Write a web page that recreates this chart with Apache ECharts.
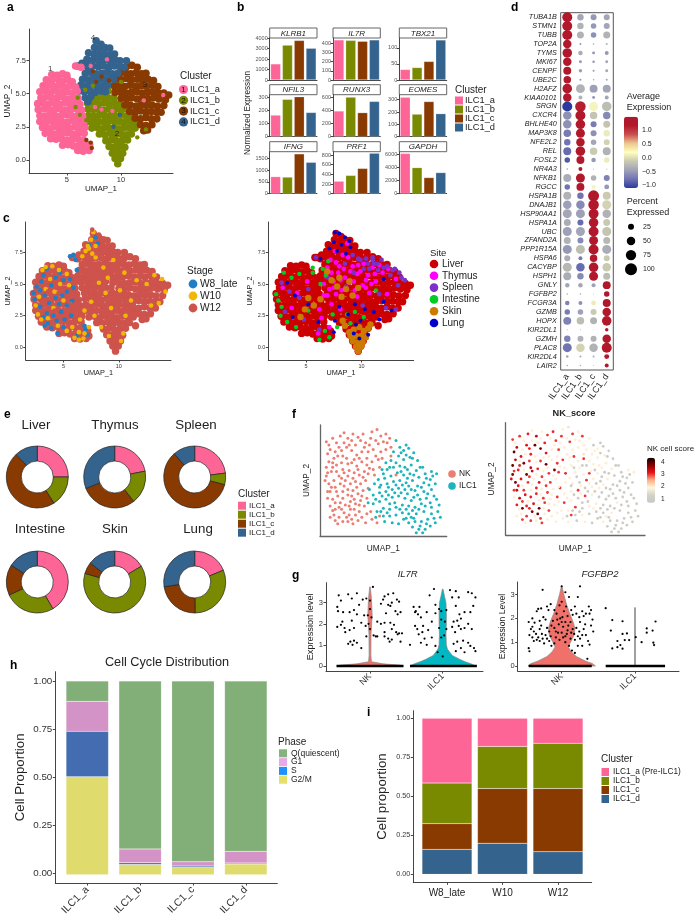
<!DOCTYPE html>
<html>
<head>
<meta charset="utf-8">
<style>html,body{margin:0;padding:0;background:#fff}#chart{width:695px;height:918px}</style>
<script src="https://cdn.jsdelivr.net/npm/echarts@6/dist/echarts.min.js"></script>
</head>
<body>
<div id="chart"></div>
<script>
// cluster names and colours
const clusters = ['ILC1_a','ILC1_b','ILC1_c','ILC1_d'];
const clusterColors = ['#fd6596','#7a8a00','#893a00','#34638e'];

// panel a, UMAP cells per cluster
const umapA = [[3.6,6.45],[4.1,6.4],[4.6,6.5],[5.0,6.4],[3.1,6.05],[3.6,6.0],[4.15,6.1],[4.6,5.95],[5.1,6.05],[5.5,5.9],[2.8,5.6],[3.3,5.65],[3.8,5.55],[4.3,5.65],[4.8,5.5],[5.3,5.6],[5.8,5.5],[2.5,5.15],[3.0,5.2],[3.5,5.1],[4.0,5.2],[4.5,5.1],[5.0,5.15],[5.5,5.05],[5.95,5.2],[2.6,4.7],[3.1,4.75],[3.6,4.65],[4.1,4.7],[4.6,4.75],[5.1,4.6],[5.6,4.7],[6.05,4.65],[2.3,4.25],[2.8,4.3],[3.3,4.2],[3.8,4.3],[4.3,4.2],[4.8,4.3],[5.3,4.2],[5.8,4.3],[6.2,4.2],[2.35,3.8],[2.9,3.85],[3.4,3.75],[3.9,3.8],[4.4,3.85],[4.9,3.75],[5.4,3.8],[5.9,3.85],[6.35,3.75],[2.5,3.35],[3.0,3.3],[3.5,3.4],[4.0,3.3],[4.5,3.35],[5.0,3.4],[5.5,3.3],[6.0,3.35],[6.45,3.3],[2.5,2.9],[3.05,2.85],[3.55,2.95],[4.05,2.85],[4.55,2.9],[5.05,2.85],[5.55,2.95],[6.05,2.9],[6.55,2.85],[2.75,2.45],[3.25,2.4],[3.75,2.5],[4.25,2.4],[4.75,2.45],[5.25,2.4],[5.75,2.5],[6.25,2.4],[6.65,2.45],[3.0,2.0],[3.5,2.05],[4.0,1.95],[4.5,2.0],[5.0,2.05],[5.5,1.95],[6.0,2.0],[6.6,2.0],[3.5,1.6],[4.0,1.55],[4.5,1.6],[5.0,1.5],[5.5,1.55],[6.0,1.6],[6.5,1.5],[4.6,1.1],[5.1,1.15],[5.6,1.05],[6.1,1.1],[6.6,1.1],[7.1,1.15],[6.0,0.7],[6.5,0.65],[7.05,0.7],[5.8,7.1],[6.3,7.0]];
const umapB = [[7.8,4.7],[8.3,4.75],[8.8,4.7],[9.3,4.7],[8.8,5.2],[9.5,5.3],[6.9,4.3],[7.4,4.3],[7.9,4.25],[8.4,4.3],[8.9,4.2],[9.4,4.3],[9.8,4.2],[6.95,3.85],[7.45,3.8],[7.95,3.85],[8.45,3.75],[8.95,3.85],[9.45,3.8],[9.95,3.8],[10.4,3.85],[7.0,3.35],[7.5,3.3],[8.0,3.4],[8.5,3.3],[9.0,3.35],[9.5,3.3],[10.0,3.4],[10.5,3.3],[10.95,3.35],[6.95,2.9],[7.45,2.85],[7.95,2.9],[8.45,2.85],[8.95,2.95],[9.45,2.85],[9.95,2.9],[10.45,2.85],[10.95,2.9],[11.3,2.8],[7.3,2.4],[7.8,2.45],[8.3,2.35],[8.8,2.45],[9.3,2.4],[9.8,2.35],[10.3,2.45],[10.8,2.4],[11.3,2.4],[8.0,1.95],[8.5,1.9],[9.0,2.0],[9.5,1.9],[10.0,1.95],[10.5,1.9],[10.95,1.95],[8.6,1.45],[9.1,1.5],[9.6,1.4],[10.1,1.45],[10.6,1.5],[8.9,1.0],[9.35,0.95],[9.85,1.0],[10.35,0.95],[9.2,0.5],[9.65,0.55],[10.15,0.5],[9.45,0.1],[9.95,0.1],[9.7,-0.3]];
const umapC = [[10.5,7.05],[11.0,7.15],[11.5,7.0],[9.9,6.55],[10.4,6.6],[10.9,6.5],[11.4,6.6],[11.9,6.5],[12.3,6.55],[9.5,6.1],[10.0,6.05],[10.5,6.15],[11.0,6.05],[11.5,6.1],[12.0,6.05],[12.5,6.1],[13.0,6.0],[9.35,5.6],[9.85,5.6],[10.35,5.55],[10.85,5.65],[11.35,5.55],[11.85,5.6],[12.35,5.55],[12.85,5.65],[13.4,5.55],[9.45,5.1],[9.95,5.15],[10.45,5.05],[10.95,5.1],[11.45,5.15],[11.95,5.05],[12.45,5.1],[12.95,5.15],[13.45,5.05],[13.95,5.05],[14.4,4.9],[10.0,4.65],[10.5,4.6],[11.0,4.7],[11.5,4.6],[12.0,4.65],[12.5,4.6],[13.0,4.7],[13.5,4.6],[14.1,4.55],[10.35,4.15],[10.85,4.15],[11.35,4.05],[11.85,4.15],[12.35,4.1],[12.85,4.15],[13.35,4.05],[13.95,4.1],[10.8,3.65],[11.3,3.6],[11.8,3.7],[12.3,3.6],[12.8,3.65],[13.3,3.6],[13.7,3.6],[11.3,3.15],[11.8,3.1],[12.3,3.2],[12.8,3.1],[13.3,3.1],[11.8,2.65],[12.3,2.6],[12.85,2.65],[12.1,2.2],[12.45,2.25]];
const umapD = [[7.7,9.0],[8.15,8.75],[7.55,8.5],[8.0,8.4],[8.5,8.5],[8.95,8.45],[7.0,8.1],[7.5,8.0],[8.0,7.95],[8.5,8.0],[9.0,7.95],[9.4,8.0],[6.95,7.55],[7.45,7.6],[7.95,7.5],[8.45,7.55],[8.95,7.5],[9.45,7.55],[9.9,7.5],[10.5,7.5],[6.9,7.05],[7.4,7.1],[7.9,7.05],[8.4,7.1],[8.9,7.0],[9.4,7.1],[9.9,7.05],[10.3,7.0],[6.7,6.55],[7.2,6.6],[7.7,6.5],[8.2,6.55],[8.7,6.6],[9.2,6.5],[9.7,6.55],[6.45,6.1],[6.95,6.05],[7.45,6.15],[7.95,6.05],[8.45,6.1],[8.95,6.1],[9.3,6.1],[6.3,5.65],[6.8,5.6],[7.3,5.65],[7.8,5.55],[8.3,5.6],[8.75,5.65],[6.1,5.2],[6.6,5.15],[7.1,5.2],[7.6,5.1],[8.1,5.2],[8.55,5.15],[6.7,4.7],[7.2,4.75],[6.95,4.4],[6.0,7.1],[6.4,7.3],[6.85,7.6]];
// single cells lying inside a neighbouring cluster
const specksA = [[8.2,3.8],[9.2,3.7],[7.6,4.0],[12.1,4.5],[13.9,4.9],[7.2,7.1],[8.7,7.6]];
const specksB = [[6.2,3.4],[5.8,4.0],[6.0,4.7],[6.7,5.3],[7.4,5.6],[10.0,5.9],[6.8,3.0],[11.5,1.7],[12.3,2.3]];
const specksC = [[8.2,6.3],[7.7,5.9],[7.4,6.7],[6.8,1.5],[7.2,1.3],[7.3,0.9],[8.9,6.0]];
const specksD = [[9.9,3.4],[9.3,2.5]];
const umapMarkers = [[3.45,6.87,'1'],[9.63,1.97,'2'],[12.2,5.68,'3'],[7.4,9.2,'4']];

// panel b, normalized expression
const barGenes = ['KLRB1','IL7R','TBX21','NFIL3','RUNX3','EOMES','IFNG','PRF1','GAPDH'];
const barValues = [[1550,3350,3800,3050],[435,430,420,435],[33,39,58,125],[165,285,305,185],[390,600,365,535],[320,183,285,187],[730,710,1700,1340],[260,380,525,840],[6100,3950,2450,3200]];
const barMax = [4030,455,131,320,636,340,1790,870,6350];
const barTicks = [[0,1000,2000,3000,4000],[0,100,200,300,400],[0,50,100],[0,100,200,300],[0,200,400,600],[0,100,200,300],[0,500,1000,1500],[0,200,400,600,800],[0,2000,4000,6000]];

// panel c, stage overlays on the same map
const stageW8 = [[2.3,4.3],[2.6,4.8],[2.4,3.8],[2.9,3.2],[3.2,5.7],[3.5,6.2],[3.0,5.2],[3.9,4.9],[4.3,5.5],[4.7,5.9],[5.0,5.3],[5.3,4.4],[4.9,4.1],[4.3,3.9],[3.7,3.5],[3.3,4.1],[3.5,2.7],[3.3,1.7],[3.9,1.5],[4.4,2.1],[4.8,2.8],[5.3,3.3],[5.8,3.7],[5.9,4.7],[5.6,5.4],[4.5,1.1],[5.0,1.6],[5.7,2.5],[5.9,7.3],[6.1,6.9],[5.6,7.2],[6.2,6.1],[7.0,1.4],[7.2,1.0],[6.9,1.7],[7.9,8.7],[8.1,8.2],[7.3,8.1],[2.9,4.5],[3.6,1.9],[4.1,2.5],[4.6,3.4],[5.1,2.2],[3.2,2.4],[6.2,0.9]];
const stageW10 = [[2.5,3.3],[2.7,2.6],[3.4,6.35],[4.0,6.4],[4.6,6.1],[3.1,6.1],[3.8,5.4],[3.4,4.6],[2.8,4.0],[4.2,4.4],[4.7,5.0],[5.3,5.8],[5.5,4.9],[5.0,3.7],[4.1,3.1],[3.6,2.3],[3.0,2.2],[4.5,1.7],[5.3,1.3],[5.8,1.6],[6.0,0.75],[6.4,0.6],[6.8,0.7],[6.4,1.2],[6.9,1.1],[7.3,1.6],[7.2,8.0],[7.5,8.5],[7.7,9.1],[7.0,7.6],[7.6,7.4],[7.3,7.8],[7.9,8.0],[6.7,7.2],[7.9,7.1],[8.6,6.3],[9.0,5.5],[8.2,5.1],[8.8,4.3],[7.5,3.6],[6.9,2.9],[6.5,2.2],[7.8,2.5],[8.4,1.6],[9.1,0.9],[9.3,3.1],[10.1,4.5],[10.5,5.9],[11.6,5.3],[12.5,5.0],[13.2,5.7],[13.9,5.4],[14.2,4.4],[13.6,3.5],[12.9,3.3],[11.1,3.7],[10.6,2.5],[10.2,0.5],[10.4,1.1],[9.5,6.9]];
const stageW12Late = [[3.6,4.4],[4.4,4.7],[5.0,4.6],[5.7,4.0],[4.2,2.9],[5.3,2.7],[3.9,6.0],[3.1,3.6],[8.2,8.9],[8.7,8.6],[7.6,9.3]];

// panel c, site overlays on the same map
const siteThymus = [[2.9,4.7],[4.2,4.3],[5.1,5.2],[3.7,3.1],[6.9,6.3],[7.3,5.9],[7.7,6.7],[8.1,5.3],[6.6,5.0],[7.1,4.6],[7.7,4.2],[8.4,6.2],[8.8,7.1],[9.2,6.4],[9.6,5.8],[10.2,6.6],[10.6,5.7],[11.0,6.3],[11.3,5.2],[10.1,4.9],[9.4,4.5],[8.9,5.1],[8.3,7.3],[7.6,7.6],[8.7,8.2],[11.9,5.9],[12.4,6.2],[6.2,3.0],[6.4,2.3],[7.3,3.4],[8.1,3.0],[7.1,1.6],[6.1,1.1],[10.7,4.3],[9.9,6.0],[10.9,5.0],[6.6,4.1],[6.8,5.6],[7.5,5.2],[7.9,5.9],[8.5,5.5],[9.0,6.0],[9.7,6.5],[9.3,5.2],[10.4,5.3],[11.2,5.8],[11.6,6.5],[7.2,6.9],[8.0,6.4],[6.9,4.1],[7.5,4.7],[8.2,4.5],[9.6,4.0],[10.4,4.7],[13.1,5.4],[12.3,4.2]];
const siteSpleen = [[2.8,5.1],[3.5,4.4],[4.4,3.9],[5.2,4.6],[4.8,2.2],[3.1,2.8],[6.2,1.4],[5.9,7.1],[7.0,5.5],[9.9,6.9],[10.4,7.0],[11.0,6.9],[11.4,6.6],[11.8,6.9],[12.3,6.4],[12.8,6.1],[13.4,5.9],[13.9,5.3],[13.3,4.9],[13.1,3.0],[12.2,3.1],[8.5,6.6],[9.2,7.3],[8.6,4.8],[10.1,3.3],[11.6,4.2],[9.3,5.9],[10.7,6.2],[11.1,6.6],[11.5,6.1],[12.0,6.3],[12.6,5.7],[11.0,7.1],[10.6,6.6],[13.6,5.5],[13.0,6.2],[10.2,6.2],[9.7,7.0]];
const siteIntestine = [[2.3,4.2],[2.5,3.7],[2.8,3.2],[2.7,2.5],[3.3,2.0],[4.1,1.6],[3.7,5.5],[3.0,5.9],[5.6,6.3],[6.5,6.2],[6.8,5.7],[6.3,5.0],[5.6,5.9],[7.0,6.8],[7.4,2.6],[7.8,1.6],[6.7,1.3],[6.2,0.6],[7.1,0.8],[8.7,2.6],[9.4,2.8],[9.0,1.9],[10.2,2.4],[5.2,2.9],[4.4,5.8],[11.3,4.5]];
const siteSkin = [[8.9,1.2],[9.3,1.4],[9.8,1.6],[10.2,1.3],[10.6,1.5],[9.0,0.9],[9.5,0.9],[10.0,0.9],[10.4,0.8],[9.2,0.5],[9.7,0.4],[10.1,0.4],[9.5,0.05],[9.95,0.05],[9.7,-0.3],[8.5,1.7],[8.9,5.2],[8.0,5.5],[8.6,4.6],[7.8,4.8],[9.2,4.1],[7.3,5.3],[6.9,6.0],[5.2,3.9],[4.9,3.0],[5.7,3.3],[6.3,3.8],[4.5,2.4],[8.2,4.0],[9.7,4.7],[10.8,1.8],[8.3,2.1]];
const siteLung = [[7.6,9.1],[8.0,9.0],[8.5,8.7],[8.9,8.4],[7.5,8.3],[8.2,8.1],[9.0,7.9],[7.8,7.6],[8.6,7.4],[7.1,7.8],[6.3,7.0],[3.3,5.1],[4.0,4.1],[3.8,2.4],[5.2,3.4],[6.1,2.0],[9.9,2.1],[9.5,1.8],[9.3,1.1],[9.8,0.7],[10.6,1.0],[8.8,2.6],[10.3,3.0],[9.4,3.4],[11.1,2.8],[11.6,2.2],[12.0,3.6],[12.7,2.9],[12.0,5.4],[8.0,3.2],[7.6,2.1],[7.5,1.2]];

// panel d, dot plot values
const dotGenes = ['TUBA1B','STMN1','TUBB','TOP2A','TYMS','MKI67','CENPF','UBE2C','H2AFZ','KIAA0101','SRGN','CXCR4','BHLHE40','MAP3K8','NFE2L2','REL','FOSL2','NR4A3','NFKB1','RGCC','HSPA1B','DNAJB1','HSP90AA1','HSPA1A','UBC','ZFAND2A','PPP1R15A','HSPA6','CACYBP','HSPH1','GNLY','FGFBP2','FCGR3A','GZMB','HOPX','KIR2DL1','GZMH','PLAC8','KIR2DL4','LAIR2'];
const dotPct = [[69,29,25,25],[69,29,21,25],[69,34,21,34],[50,2.8,1.6,2.8],[63,14,6,11],[50,6,4.3,6],[44,8.5,2.8,6],[39,2.8,1.6,2.8],[63,56,44,44],[50,11,6,11],[69,77,56,63],[50,69,39,39],[50,63,25,34],[39,56,25,29],[29,50,21,25],[44,63,39,44],[21,44,14,21],[1.6,11,0.7,0.7],[44,56,21,25],[21,44,11,17],[44,29,84,44],[50,50,77,56],[56,56,69,50],[34,25,63,34],[56,56,69,56],[34,25,56,34],[56,56,69,56],[25,11,39,25],[56,50,63,50],[44,29,56,34],[14,14,11,44],[1.6,1.6,0.7,21],[14,11,17,44],[21,21,25,50],[44,39,34,63],[0.7,0.7,0.4,8.5],[29,25,25,50],[56,50,50,69],[4.3,2.8,2.8,17],[1.6,1.6,0.7,11]];
const dotAvg = [[1.3,-0.4,-0.5,-0.4],[1.3,-0.3,-0.5,-0.4],[1.3,-0.3,-0.55,-0.3],[1.3,-0.5,-0.4,-0.3],[1.3,-0.35,-0.5,-0.5],[1.3,-0.5,-0.5,-0.4],[1.3,-0.45,-0.5,-0.4],[1.3,-0.5,-0.4,-0.4],[1.3,-0.3,-0.45,-0.4],[1.3,-0.3,-0.5,-0.4],[-1.1,1.15,0.15,-0.2],[-0.55,1.3,-0.15,-0.6],[-0.55,1.3,-0.7,-0.15],[-0.7,1.3,-0.55,0.1],[-0.75,1.3,-0.4,-0.05],[-0.8,1.3,-0.1,-0.3],[-0.9,1.25,-0.5,0.1],[-0.5,1.3,-0.4,-0.4],[-0.35,1.3,-0.3,-0.65],[-0.75,1.25,0.15,-0.5],[-0.3,-0.75,1.3,-0.1],[-0.45,-0.6,1.3,-0.05],[-0.4,-0.45,1.3,-0.3],[-0.35,-0.8,1.3,-0.1],[-0.45,-0.4,1.3,-0.15],[-0.3,-0.6,1.3,-0.25],[-0.5,-0.2,1.3,-0.35],[-0.35,-0.7,1.3,-0.1],[-0.25,-0.8,1.3,-0.1],[-0.35,-0.6,1.3,-0.2],[-0.4,-0.4,-0.45,1.3],[-0.4,-0.4,-0.2,1.3],[-0.65,-0.55,0.1,1.25],[-0.7,-0.45,-0.1,1.3],[-0.65,-0.2,-0.3,1.3],[-0.4,-0.3,-0.2,1.3],[-0.65,-0.3,-0.3,1.25],[-0.75,-0.05,-0.3,1.3],[-0.45,-0.4,-0.35,1.25],[-0.4,-0.3,-0.2,1.25]];
const avgTicks = [1.0,0.5,0.0,-0.5,-1.0];
const pctTicks = [25,50,75,100];

// panel e, donut shares
const donutSites = ['Liver','Thymus','Spleen','Intestine','Skin','Lung'];
const donutValues = [[25,16,47,12],[22,17.5,29.5,31],[23,6,59.5,11.5],[41.6,26.5,16,15.9],[16.5,63,6,14.5],[18.8,31,22.7,27.5]];

// panel f, [x, y, NK cell score]
const nkCells = [[5,85,3],[8,78,3.4],[6,74,3.9],[10,88,3],[13,84,2],[16,90,3.1],[19,93,2],[22,88,3.4],[25,86,2],[28,82,3.1],[32,86,2],[36,84,3],[41,94,2],[45,96,2.1],[48,90,3],[52,92,2],[55,88,3],[53,84,2],[46,83,3],[42,78,2],[38,76,3],[33,76,2],[29,73,3.2],[25,77,3.8],[21,80,3.9],[17,77,3.1],[14,72,2],[11,70,3.2],[7,67,3.4],[5,62,3.9],[9,58,3.1],[13,64,3.8],[17,66,3],[21,70,2],[25,66,3],[29,63,3.9],[33,67,2],[37,70,2],[41,67,3],[44,72,2],[48,76,2],[52,78,2],[56,80,2],[39,61,2],[35,58,3.8],[31,55,3],[27,57,2],[23,59,3.1],[19,57,3.4],[15,54,3.9],[11,50,3.2],[7,47,3.9],[5,54,3.8],[8,40,3.4],[12,44,2],[16,47,3],[20,50,2],[24,47,3.2],[28,49,2],[32,47,3],[36,50,2],[34,41,2],[30,38,3],[26,41,2],[22,37,3.1],[18,40,2],[14,36,3.2],[10,33,3.4],[8,27,3.1],[12,24,3.9],[16,30,2],[20,28,3.2],[24,31,2],[28,29,3],[32,32,2],[35,27,2],[31,22,3],[27,24,2],[23,19,3.9],[19,21,3.8],[15,17,3],[11,19,2],[8,17,2],[14,11,2],[18,13,3],[22,13,2],[26,11,3],[30,14,2],[36,12,2],[41,15,2],[45,12,2],[47,18,3],[40,22,2],[37,34,3],[38,43,2],[43,55,3.1],[47,62,2],[46,69,2],[40,88,3],[34,92,3.1],[26,92,2],[6,40,3],[4,50,3.2],[10,62,3.1],[18,60,3.4],[22,42,3.1],[15,26,3.1],[24,24,3.9],[56,72,2.1],[60,55,3],[7,82,2],[12,76,2],[15,80,3.2],[19,84,2],[23,82,2],[30,89,3],[35,80,2],[39,82,2],[44,86,2],[50,85,2],[49,70,3],[42,60,2],[37,64,3],[31,70,2],[27,69,2],[22,65,2],[18,72,3.1],[10,66,2],[6,57,3],[13,58,2],[17,52,3],[22,54,2],[26,52,3],[30,60,2],[34,53,2],[38,56,3],[9,44,3.2],[13,40,3],[19,45,2],[25,36,2],[29,44,3],[33,36,2],[6,34,2],[12,30,3],[18,34,3.1],[23,27,2],[27,33,3],[31,28,2],[10,23,2],[17,24,3.1],[21,17,2],[25,15,3],[33,17,2],[37,20,2],[12,14,3],[28,19,2]];
const ilcCells = [[60,86,2],[63,80,1],[58,76,2],[66,77,2],[70,79,1],[74,75,1.2],[71,71,2],[66,69,2],[62,72,2],[56,68,3],[52,66,2],[49,60,1.2],[53,60,2],[58,62,1],[63,63,2],[67,62,2],[72,64,2],[77,68,1],[81,62,1.2],[76,59,2],[71,56,1],[66,55,2],[61,57,2],[56,54,2],[51,52,1],[46,51,2],[43,47,2],[48,46,2],[53,47,1.2],[58,49,3],[63,50,2],[68,48,1],[73,50,2],[78,53,1],[83,56,1],[88,58,2],[92,56,2],[87,51,1],[82,48,1],[77,45,1],[72,42,1],[67,42,2],[62,43,2],[57,42,1],[52,40,3],[47,39,2],[42,37,2],[39,42,3],[38,30,2],[42,29,3],[47,31,2],[52,33,1],[57,35,3],[62,36,2],[67,34,1],[72,32,1],[77,37,1],[82,40,1],[88,42,1],[84,34,1],[80,29,2],[75,26,1],[70,27,1],[65,28,2],[60,26,2],[55,24,1],[50,25,3],[45,22,2],[50,18,1],[55,18,2],[60,19,1],[65,21,1],[70,20,1],[76,20,2],[82,22,1],[88,26,1],[93,22,1],[95,17,1],[90,16,1],[85,15,1],[80,13,1],[75,13,1],[70,12,2],[73,8,1],[78,6,1],[83,6,1],[87,9,1],[81,3,1],[76,3,1],[91,12,1],[94,28,1],[86,46,1],[91,47,1],[90,36,1],[72,17,2],[66,15,1],[62,11,1],[57,12,2],[51,13,1],[44,17,1],[68,82,1],[73,70,1],[69,52,1],[60,46,2],[55,29,1],[64,39,1],[64,75,2],[68,73,1],[60,66,2],[55,62,1],[64,58,1],[69,60,2],[74,55,1],[79,62,1],[84,52,1],[89,54,1],[50,56,2],[47,44,1],[54,44,2],[59,39,1],[65,46,1],[70,45,2],[75,41,1],[80,44,1],[85,38,1],[44,33,2],[49,36,1],[54,37,2],[59,30,1],[69,38,1],[74,35,1],[79,33,1],[87,30,1],[83,27,1],[78,24,1],[73,23,1],[68,24,1],[63,24,2],[48,22,1],[53,21,1],[88,20,1],[84,11,1],[79,9,1],[74,16,1],[68,16,1],[92,33,1]];

// panel g, violin outlines as [y, half width] and points
const violinIl7rNk = [[0,0.46],[0.04,0.4],[0.1,0.18],[0.2,0.02],[0.5,0.012],[1.5,0.014],[2.4,0.03],[3.2,0.02],[3.75,0.004]];
const violinIl7rIlc = [[0,0.45],[0.1,0.39],[0.2,0.31],[0.3,0.24],[0.5,0.13],[0.8,0.065],[1,0.05],[1.5,0.045],[2,0.05],[2.5,0.05],[3,0.045],[3.3,0.025],[3.65,0.004]];
const violinFgfNk = [[0,0.46],[0.1,0.42],[0.2,0.33],[0.4,0.2],[0.6,0.13],[0.8,0.09],[1,0.12],[1.3,0.17],[1.6,0.18],[1.9,0.15],[2.2,0.11],[2.6,0.065],[3,0.03],[3.35,0.004]];
const violinFgfIlc = [[0,0.02],[0.05,0.006],[2.45,0.006]];
const zeroIl7rNk = [[0.54,0],[1.46,0]];
const zeroIl7rIlc = [[1.55,0],[2.47,0]];
const zeroFgfNk = [[0.55,0],[1.41,0]];
const zeroFgfIlc = [[1.6,0],[2.41,0]];
const dotsIl7r = [[0.57,3.35],[0.7,3.4],[0.75,3.2],[0.82,3.45],[0.9,3.15],[0.6,3.1],[0.55,2.8],[0.56,2.6],[0.63,2.55],[0.72,2.55],[0.78,2.65],[0.85,2.9],[0.82,2.45],[0.92,2.4],[0.97,2.4],[1.0,3.1],[0.95,3.2],[1.04,3.75],[1.0,2.7],[1.02,2.3],[0.98,2.0],[1.0,1.75],[0.55,1.85],[0.6,1.95],[0.65,1.8],[0.72,1.7],[0.78,1.8],[0.62,2.1],[0.75,2.15],[0.88,2.05],[0.94,1.9],[0.66,1.6],[0.73,1.15],[0.78,1.2],[0.82,1.1],[0.7,1.05],[0.76,1.0],[0.88,0.85],[0.95,1.4],[1.05,1.45],[1.08,1.4],[1.1,2.1],[1.15,2.0],[1.2,2.05],[1.15,2.95],[1.2,3.3],[1.18,3.15],[1.25,3.4],[1.3,3.0],[1.28,2.85],[1.32,3.45],[1.37,3.15],[1.4,3.05],[1.28,2.05],[1.33,1.95],[1.3,1.75],[1.36,1.6],[1.4,1.55],[1.44,1.55],[1.2,1.4],[1.25,1.3],[1.3,1.25],[1.27,1.15],[1.38,1.5],[1.42,1.15],[1.1,1.4],[1.2,1.6],[1.35,2.6],[1.42,2.55],[1.38,2.45],[1.22,2.5],[1.25,2.9],[1.55,1.0],[1.6,2.8],[1.63,2.6],[1.66,2.45],[1.68,2.8],[1.62,2.55],[1.7,2.3],[1.62,1.9],[1.65,1.75],[1.72,1.6],[1.67,1.5],[1.73,1.9],[1.78,2.55],[1.82,3.35],[1.88,3.65],[1.9,2.5],[1.85,2.1],[1.8,1.7],[1.85,1.35],[1.75,1.3],[1.7,1.1],[1.78,1.0],[1.9,0.95],[1.9,2.9],[1.95,2.7],[1.98,2.2],[1.95,1.8],[1.98,2.6],[2.03,2.1],[2.05,2.65],[2.05,1.75],[2.02,1.45],[1.98,1.35],[2.0,0.45],[1.93,0.65],[2.1,3.6],[2.13,3.25],[2.18,3.55],[2.22,3.25],[2.18,2.85],[2.23,2.45],[2.15,2.1],[2.2,2.15],[2.25,2.25],[2.22,1.9],[2.13,1.85],[2.17,1.6],[2.25,1.75],[2.3,1.8],[2.35,2.0],[2.4,1.75],[2.3,2.55],[2.38,2.55],[2.35,3.5],[2.4,3.45],[2.45,3.25],[2.42,2.85],[2.2,1.15],[2.15,1.05],[2.28,1.2],[2.35,1.1],[2.38,0.95],[2.43,0.85],[2.45,0.7],[2.25,0.85],[2.3,0.65],[2.18,0.7]];
const dotsFgf = [[0.74,3.2],[0.68,2.4],[0.66,2.3],[0.72,2.42],[0.6,2.0],[0.63,1.82],[0.55,1.85],[0.58,1.55],[0.62,1.45],[0.56,1.3],[0.6,1.2],[0.65,1.35],[0.7,1.55],[0.74,1.15],[0.68,1.2],[0.62,1.05],[0.55,0.75],[0.56,0.62],[0.72,1.7],[0.78,1.95],[0.75,2.05],[0.8,2.5],[0.85,2.6],[0.82,2.35],[0.83,1.45],[0.78,1.3],[0.83,1.05],[0.86,0.85],[0.9,0.95],[0.92,1.2],[0.95,1.4],[0.9,1.6],[0.88,1.9],[0.93,2.2],[0.97,2.55],[1.0,3.35],[1.05,3.1],[1.1,2.9],[1.0,2.7],[1.03,2.3],[0.98,2.0],[1.05,1.85],[1.02,1.65],[1.0,1.4],[1.05,1.25],[1.08,1.5],[1.12,1.85],[1.15,2.15],[1.18,2.5],[1.22,2.9],[1.25,3.35],[1.12,1.15],[1.17,1.35],[1.2,1.6],[1.22,1.25],[1.25,1.85],[1.28,2.3],[1.3,2.1],[1.33,2.2],[1.37,2.5],[1.4,2.35],[1.38,2.2],[1.25,1.15],[1.22,0.85],[1.18,0.55],[1.1,0.85],[1.14,0.65],[1.3,1.55],[1.33,1.3],[1.36,1.05],[1.4,1.7],[1.43,1.45],[1.35,0.3],[1.28,0.85],[1.38,0.9],[1.05,1.0],[0.96,1.75],[0.9,2.35],[1.08,2.1],[1.15,1.55],[0.86,1.7],[0.8,1.15],[0.76,0.95],[0.7,1.9],[0.6,1.65],[1.01,2.05],[1.07,1.35],[1.24,2.05],[1.32,1.75],[1.42,1.95],[0.66,1.1],[0.73,1.35],[0.7,1.05],[0.8,1.6],[0.85,1.25],[0.92,1.45],[0.97,1.1],[1.02,1.2],[1.09,1.7],[1.13,1.4],[1.18,1.1],[1.24,1.45],[1.28,1.3],[0.94,1.95],[1.0,1.85],[1.06,2.5],[1.13,2.35],[1.2,2.2],[1.6,2.43],[1.69,1.93],[1.83,1.88],[2.28,1.87],[1.67,1.49],[2.16,1.58],[2.24,1.49],[1.89,1.37],[1.83,1.35],[2.16,1.40],[2.01,1.21],[1.76,1.05],[1.86,1.09],[1.92,1.09],[1.8,0.88],[1.76,0.79],[1.83,0.73],[1.69,0.74],[2.09,1],[2.25,0.98],[2.26,0.88]];

// panel h
const cyclePhases = ['Q(quiescent)','G1','S','G2/M'];
const cycleG2M = [0.505,0.052,0.037,0.055];
const cycleS = [0.235,0.01,0.007,0.005];
const cycleG1 = [0.155,0.071,0.022,0.06];
const cycleQ = [0.105,0.867,0.934,0.88];
const propTicks = [0,0.25,0.5,0.75,1];

// panel i
const stages = ['W8_late','W10','W12'];
const stageClusterD = [0.16,0.2,0.145];
const stageClusterC = [0.165,0.35,0.405];
const stageClusterB = [0.26,0.27,0.29];
const stageClusterA = [0.415,0.18,0.16];

const grids = [], xAxes = [], yAxes = [], series = [], graphics = [], visualMaps = [];
const TICK = '#444';

function addGrid(l, t, r, b, xa, ya) {
  const i = grids.length;
  grids.push({left:l, top:t, width:r-l, height:b-t});
  xAxes.push(Object.assign({gridIndex:i}, xa));
  yAxes.push(Object.assign({gridIndex:i}, ya));
  return i;
}
function valAxis(min, max, ticks, size, fmt, extra) {
  return Object.assign({
    type:'value', min:min, max:max, splitLine:{show:false},
    axisLine:{show:true, onZero:false, lineStyle:{color:TICK, width:1}},
    axisTick:{show:true, length:2.5, customValues:ticks, lineStyle:{color:TICK}},
    axisLabel:{show:true, customValues:ticks, fontSize:size, color:'#333', margin:3, formatter:fmt}
  }, extra||{});
}
function nameOpts(name, gap, size) {
  return {name:name, nameLocation:'middle', nameGap:gap, nameTextStyle:{fontSize:size, color:'#222'}};
}
// bars sit in their own grid with hidden axes so the bands match the picture
function stackGrid(l, r, t, b, cats, ymin, ymax) {
  return addGrid(l, t, r, b,
    {type:'category', data:cats, show:false},
    {type:'value', min:ymin, max:ymax, show:false, splitLine:{show:false}});
}
function text(x, y, s, size, o) {
  graphics.push({type:'text', x:x, y:y, silent:true, rotation:(o&&o.rot)||0, style:{
    text:s, fontSize:size, fill:(o&&o.fill)||'#222', fontFamily:'Liberation Sans',
    fontWeight:(o&&o.bold)?'bold':'normal', fontStyle:(o&&o.italic)?'italic':'normal',
    textAlign:(o&&o.align)||'left', textVerticalAlign:'middle', textBaseline:'middle'}});
}
function square(x, y, w, h, fill) {
  graphics.push({type:'rect', silent:true, shape:{x:x, y:y-h/2, width:w, height:h}, style:{fill:fill}});
}
function circle(x, y, r, fill) {
  graphics.push({type:'circle', silent:true, shape:{cx:x, cy:y, r:r}, style:{fill:fill}});
}
function dots(g, data, color, size) {
  series.push({type:'scatter', xAxisIndex:g, yAxisIndex:g, data:data, symbolSize:size, silent:true, itemStyle:{color:color, opacity:1}});
}
const f1 = v => v.toFixed(1), f0 = v => String(v), f2 = v => v.toFixed(2);

// panel letters
[['a',7,8],['b',237,8],['c',3,219],['d',511,8],['e',4,415],['f',292,415],['g',292,576],['h',10,666],['i',367,713]]
  .forEach(p => text(p[1], p[2], p[0], 12, {bold:true, fill:'#000'}));

// a
const gA = addGrid(29,29,173,173,
  valAxis(1.5,14.8,[5,10],7.5,f0,nameOpts('UMAP_1',12,8)),
  valAxis(-1,9.9,[0,2.5,5,7.5],7.5,f1,nameOpts('UMAP_2',15,8.2)));
dots(gA,umapB,clusterColors[1],7.6);
dots(gA,umapC,clusterColors[2],7.6);
dots(gA,umapD,clusterColors[3],7.6);
dots(gA,umapA,clusterColors[0],7.6);
dots(gA,specksB,clusterColors[1],4.4);
dots(gA,specksC,clusterColors[2],4.4);
dots(gA,specksD,clusterColors[3],4.4);
dots(gA,specksA,clusterColors[0],4.4);
series.push({type:'scatter',xAxisIndex:gA,yAxisIndex:gA,data:umapMarkers,symbolSize:0,silent:true,
  label:{show:true,position:'inside',formatter:p=>p.value[2],fontSize:8,color:'#111'}});
text(180,76,'Cluster',10);
clusters.forEach((c,i)=>{
  const y=89.5+i*10.8;
  circle(183.5,y,4.6,clusterColors[i]);
  text(183.5,y,String(i+1),8,{align:'center',fill:'#111'});
  text(190,y,c,9.3);
});

// b
const bCols=[[269.7,317],[333,380.3],[399.3,446.7]];
const bRows=[[28,38,80],[84.7,94.7,136.7],[141.7,151.7,193.7]];
barGenes.forEach((gene,i)=>{
  const col=bCols[i%3], row=bRows[Math.floor(i/3)];
  const g=addGrid(col[0],row[1],col[1],row[2],
    {type:'category',data:clusters,axisLabel:{show:false},axisTick:{show:false},axisLine:{lineStyle:{color:TICK}}},
    valAxis(0,barMax[i],barTicks[i],5.5,f0,{axisLabel:{show:true,customValues:barTicks[i],fontSize:5.5,color:'#555',margin:2,formatter:f0}}));
  series.push({type:'bar',xAxisIndex:g,yAxisIndex:g,barWidth:10.2,silent:true,
    data:barValues[i].map((v,k)=>({value:v,itemStyle:{color:clusterColors[k],borderColor:'rgba(255,255,255,0.35)',borderWidth:0.6}}))});
  graphics.push({type:'rect',silent:true,shape:{x:col[0],y:row[0],width:col[1]-col[0],height:row[1]-row[0]},style:{fill:'#fff',stroke:'#666',lineWidth:1}});
  text((col[0]+col[1])/2,(row[0]+row[1])/2+0.5,gene,8,{align:'center',italic:true});
});
text(248,113,'Normalized Expression',8.2,{align:'center',rot:Math.PI/2});
text(455,90,'Cluster',10);
clusters.forEach((c,i)=>{ const y=100.5+i*9; square(455,y,8,8,clusterColors[i]); text(465,y,c,9.3); });

// c left
const gC1=addGrid(25.7,222,171,360,
  valAxis(1.6,14.7,[5,10],5.5,f0,nameOpts('UMAP_1',9,7.3)),
  valAxis(-1,9.9,[0,2.5,5,7.5],5.5,f1,nameOpts('UMAP_2',12,7.3)));
const allCells=[].concat(umapA,umapB,umapC,umapD,specksA,specksB,specksC,specksD);
dots(gC1,allCells,'#cd534c',7.4);
dots(gC1,stageW8,'#1f7fc4',4.6);
dots(gC1,stageW10,'#f2b705',4.6);
dots(gC1,stageW12Late,'#cd534c',4.6);
text(187,271,'Stage',10);
['W8_late','W10','W12'].forEach((s,i)=>{
  const y=284+i*12;
  circle(193,y,4.4,['#1f7fc4','#f2b705','#cd534c'][i]);
  text(200,y,s,10.2);
});

// c right
const gC2=addGrid(268.3,222,413.7,360,
  valAxis(1.6,14.7,[5,10],5.5,f0,nameOpts('UMAP_1',9,7.3)),
  valAxis(-1,9.9,[0,2.5,5,7.5],5.5,f1,nameOpts('UMAP_2',12,7.3)));
const siteNames=['Liver','Thymus','Spleen','Intestine','Skin','Lung'];
const siteColors=['#cc0000','#ff00ff','#7b30c8','#00cc22','#cc7a00','#0000cc'];
dots(gC2,allCells,siteColors[0],7.4);
dots(gC2,siteThymus,siteColors[1],4.8);
dots(gC2,siteSpleen,siteColors[2],4.8);
dots(gC2,siteIntestine,siteColors[3],4.4);
dots(gC2,siteSkin,siteColors[4],6.4);
dots(gC2,siteLung,siteColors[5],4);
text(430,253,'Site',9.5);
siteNames.forEach((s,i)=>{
  const y=264+i*11.8;
  circle(434,y,4.3,siteColors[i]);
  text(442,y,s,10);
});

// d
const gD=addGrid(560.7,12.7,613.3,370,
  {type:'category',data:clusters,axisLine:{show:false},axisTick:{show:false},
    axisLabel:{rotate:55,fontSize:9,color:'#222',margin:5,interval:0}},
  {type:'category',data:dotGenes,inverse:true,axisLine:{show:false},axisTick:{show:false},
    axisLabel:{fontSize:7.2,fontStyle:'italic',color:'#222',margin:4,interval:0}});
grids[gD].show=true; grids[gD].borderColor='#555'; grids[gD].borderWidth=1; grids[gD].backgroundColor='transparent';
const dotData=[];
dotGenes.forEach((g,r)=>clusters.forEach((c,k)=>dotData.push([k,r,dotPct[r][k],dotAvg[r][k]])));
series.push({type:'scatter',xAxisIndex:gD,yAxisIndex:gD,data:dotData,silent:true,itemStyle:{opacity:1},
  symbolSize:v=>12*Math.sqrt(v[2]/100)});
visualMaps.push({type:'continuous',seriesIndex:series.length-1,dimension:3,min:-1.08,max:1.51,
  left:624,top:116.7,itemWidth:14,itemHeight:71.3,padding:0,calculable:false,hoverLink:false,text:null,
  inRange:{color:['#2b3a9e','#6f74b2','#a0a2b8','#c9c9b0','#ffffbf','#ecc98f','#c9504f','#b2182b','#b2182b']}});
text(626.7,97,'Average',9);
text(626.7,108,'Expression',9);
avgTicks.forEach(v=>{ text(642,158-v*27.5,v.toFixed(1).replace('-','\u2212'),7); });
text(626.7,202,'Percent',9);
text(626.7,213,'Expressed',9);
pctTicks.forEach((v,i)=>{ const y=226.7+i*14.2; circle(631,y,6*Math.sqrt(v/100),'#000'); text(643,y,String(v),7); });

// e
const donutPos=[[37.3,477],[114.7,477],[194.7,477],[37.3,582],[114.7,582],[194.7,582]];
const donutTitle=[[36,425],[115,425],[196,425],[40,529],[115,529],[198,529]];
donutSites.forEach((s,i)=>{
  series.push({type:'pie',center:donutPos[i],radius:[16,31],silent:true,startAngle:90,label:{show:false},labelLine:{show:false},
    itemStyle:{borderColor:'#222',borderWidth:0.7},
    data:donutValues[i].map((v,k)=>({value:v,name:clusters[k],itemStyle:{color:clusterColors[k]}}))});
  text(donutTitle[i][0],donutTitle[i][1],s,13.3,{align:'center'});
});
text(238,494,'Cluster',10);
clusters.forEach((c,i)=>{ const y=505.7+i*9; square(238,y,8,8,clusterColors[i]); text(249,y,c,8); });

// f left
const hidden=()=>({type:'value',min:0,max:100,axisTick:{show:false},axisLabel:{show:false},splitLine:{show:false},
  axisLine:{show:true,onZero:false,lineStyle:{color:'#666',width:1.3}}});
const gF1=addGrid(320,425,446.7,536,Object.assign(hidden(),nameOpts('UMAP_1',9,8.3)),Object.assign(hidden(),nameOpts('UMAP_2',9,8.3)));
dots(gF1,nkCells,'#ec7d72',3);
dots(gF1,ilcCells,'#1cb5bd',3);
circle(452,474,3.8,'#ec7d72'); text(459,474,'NK',8.4);
circle(452,486,3.8,'#1cb5bd'); text(459,486,'ILC1',8.4);

// f right
const gF2=addGrid(505.7,422.7,645,535.3,Object.assign(hidden(),nameOpts('UMAP_1',9,8.3)),Object.assign(hidden(),nameOpts('UMAP_2',10,8.3)));
series.push({type:'scatter',xAxisIndex:gF2,yAxisIndex:gF2,data:[].concat(ilcCells,nkCells),symbolSize:2.8,silent:true,itemStyle:{opacity:1}});
visualMaps.push({type:'continuous',seriesIndex:series.length-1,dimension:2,min:0.7,max:4.37,
  left:647,top:457.7,itemWidth:8,itemHeight:45,padding:0,calculable:false,hoverLink:false,text:null,
  inRange:{color:['#c8c8c4','#d2d2c8','#fff7df','#fdb088','#e8141c','#8a0000','#0a0000']}});
text(574,413,'NK_score',9.2,{align:'center',bold:true});
text(647,449,'NK cell score',8);
[[4,462.3],[3,474.3],[2,486.7],[1,499.3]].forEach(t=>text(661,t[1],String(t[0]),6.5));

// g violins
function violin(g, center, profile, fill) {
  series.push({type:'custom',xAxisIndex:g,yAxisIndex:g,silent:true,data:profile,
    renderItem:(p,api)=>{
      if(p.dataIndex!==0) return null;
      const pts=profile.map(d=>api.coord([center-d[1],d[0]]));
      profile.slice().reverse().forEach(d=>pts.push(api.coord([center+d[1],d[0]])));
      return {type:'polygon',shape:{points:pts},style:{fill:fill,stroke:'#888',lineWidth:0.7}};
    }});
}
function zeroBand(g,data){
  series.push({type:'line',xAxisIndex:g,yAxisIndex:g,data:data,silent:true,symbol:'none',lineStyle:{color:'#000',width:2.4}});
}
const vLabel=v=>v===1?'NK':'ILC1';
function violinX(min,max){
  return valAxis(min,max,[1,2],9,vLabel,{axisLabel:{show:true,customValues:[1,2],rotate:45,fontSize:9,color:'#333',margin:4,formatter:vLabel}});
}
const gG1=addGrid(326,582.7,483,671,violinX(0.395,2.554),
  valAxis(-0.24,3.95,[0,1,2,3],7.5,f0,nameOpts('Expression level',10,9.2)));
violin(gG1,1,violinIl7rNk,'#f0716a');
violin(gG1,2,violinIl7rIlc,'#00b7c2');
zeroBand(gG1,zeroIl7rNk); zeroBand(gG1,zeroIl7rIlc);
dots(gG1,dotsIl7r,'#000',2.2);
const gG2=addGrid(517.7,582,679,671,violinX(0.4,2.6),
  valAxis(-0.21,3.53,[0,1,2,3],7.5,f0,nameOpts('Expression Level',10,8.6)));
violin(gG2,1,violinFgfNk,'#f0716a');
violin(gG2,2,violinFgfIlc,'#999');
zeroBand(gG2,zeroFgfNk); zeroBand(gG2,zeroFgfIlc);
dots(gG2,dotsFgf,'#000',2.2);
text(407.7,574,'IL7R',9.5,{align:'center',italic:true});
text(600,574,'FGFBP2',9.5,{align:'center',italic:true});

// h
const clusterFmt=v=>clusters[v-1];
addGrid(55.3,671.7,277.3,884.7,
  valAxis(0.395,4.595,[1,2,3,4],10.5,clusterFmt,{axisLabel:{show:true,customValues:[1,2,3,4],rotate:45,fontSize:10.5,color:'#333',margin:5,formatter:clusterFmt}}),
  valAxis(-0.052,1.048,propTicks,9.8,f2,nameOpts('Cell Proportion',28,13.3)));
const gH=stackGrid(60.85,272.25,671.7,884.7,clusters,-0.052,1.048);
[[cycleG2M,'#dfdc6d'],[cycleS,'#446db1'],[cycleG1,'#d393c6'],[cycleQ,'#82ae78']].forEach(s=>{
  series.push({type:'bar',xAxisIndex:gH,yAxisIndex:gH,stack:'cycle',barWidth:42.5,silent:true,data:s[0],
    itemStyle:{color:s[1],borderColor:'rgba(255,255,255,0.3)',borderWidth:0.5}});
});
text(167,662.7,'Cell Cycle Distribution',12.7,{align:'center'});
text(278,742,'Phase',10);
cyclePhases.forEach((s,i)=>{ const y=753.3+i*8.8; square(279,y,8,8,['#86b280','#e8a9e8','#1e90ff','#e6e06a'][i]); text(291,y,s,8.5); });

// i
const stageFmt=v=>stages[v-1];
addGrid(413.3,710.7,591.7,882.3,
  valAxis(0.393,3.607,[1,2,3],10,stageFmt,{axisLabel:{show:true,customValues:[1,2,3],fontSize:10,color:'#222',margin:6,formatter:stageFmt}}),
  valAxis(-0.051,1.049,propTicks,7.2,f2,nameOpts('Cell proportion',24,13.3)));
const gI=stackGrid(419.25,585.75,710.7,882.3,stages,-0.051,1.049);
[[stageClusterD,clusterColors[3]],[stageClusterC,clusterColors[2]],[stageClusterB,clusterColors[1]],[stageClusterA,clusterColors[0]]].forEach(s=>{
  series.push({type:'bar',xAxisIndex:gI,yAxisIndex:gI,stack:'stage',barWidth:50,silent:true,data:s[0],
    itemStyle:{color:s[1],borderColor:'rgba(255,255,255,0.3)',borderWidth:0.5}});
});
text(601,759.7,'Cluster',10);
['ILC1_a (Pre-ILC1)','ILC1_b','ILC1_c','ILC1_d'].forEach((s,i)=>{ const y=772+i*9; square(601.5,y,7.5,8,clusterColors[i]); text(613,y,s,8.3); });

const chart=echarts.init(document.getElementById('chart'));
chart.setOption({
  animation:false,
  backgroundColor:'#fff',
  textStyle:{fontFamily:'Liberation Sans'},
  grid:grids,xAxis:xAxes,yAxis:yAxes,series:series,visualMap:visualMaps,
  graphic:{elements:graphics}
});
</script>
</body>
</html>
